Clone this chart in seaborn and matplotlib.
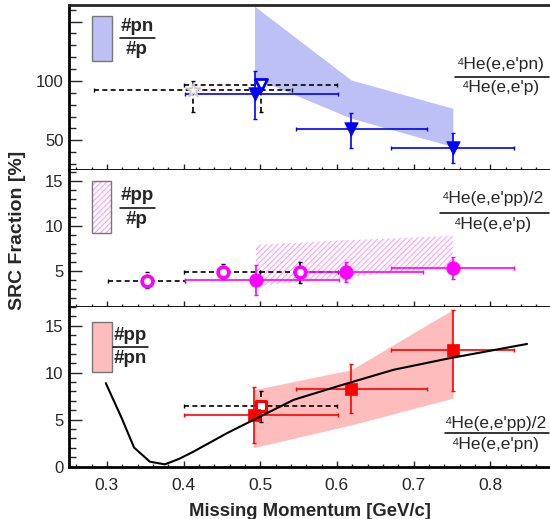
import numpy as np
import pandas as pd
import matplotlib
matplotlib.use("Agg")
import matplotlib.pyplot as plt
import seaborn as sns
from matplotlib.patches import Rectangle
from matplotlib.lines import Line2D
from matplotlib.ticker import MultipleLocator, FixedLocator, FixedFormatter

# ---------------- data ----------------
# top panel: #pn/#p  (4He(e,e'pn)/4He(e,e'p))
pn_x = [0.4926, 0.6187, 0.7513]
pn_y = [88.8, 59.3, 43.8]
pn_xlo = [0.402, 0.5465, 0.6709]
pn_xhi = [0.602, 0.7174, 0.8313]
pn_ylo = [67.7, 43.8, 30.7]
pn_yhi = [108.4, 73.3, 55.9]
pn_band_lo = [102.5, 68.6, 44.7]
pn_band_hi = [163.0, 100.8, 77.0]
pn_open_x = [0.5013]
pn_open_y = [96.6]
pn_open_xlo = [0.40]
pn_open_xhi = [0.60]
pn_open_ylo = [74.1]
pn_open_yhi = [99.0]
star_x = [0.412]
star_y = [92.2]
star_xlo = [0.283]
star_xhi = [0.541]
star_ylo = [74.1]
star_yhi = [100.3]

# middle panel: #pp/#p
ppp_x = [0.4944, 0.6118, 0.7513]
ppp_y = [4.0, 4.85, 5.3]
ppp_xlo = [0.402, 0.552, 0.6709]
ppp_xhi = [0.603, 0.712, 0.8313]
ppp_ylo = [2.33, 3.74, 4.08]
ppp_yhi = [5.67, 5.97, 6.52]
ppp_band_lo = [3.3, 4.3, 5.4]
ppp_band_hi = [7.9, 8.4, 8.9]
ppp_open_x = [0.3522, 0.4513, 0.5513]
ppp_open_y = [3.92, 4.92, 4.85]
ppp_open_xlo = [0.3013, 0.40, 0.50]
ppp_open_xhi = [0.402, 0.50, 0.602]
ppp_open_ylo = [3.08, 4.08, 3.63]
ppp_open_yhi = [4.86, 5.78, 6.03]

# bottom panel: #pp/#pn
pppn_x = [0.4913, 0.6187, 0.7513]
pppn_y = [5.5, 8.27, 12.35]
pppn_xlo = [0.401, 0.5465, 0.6709]
pppn_xhi = [0.602, 0.7174, 0.8313]
pppn_ylo = [2.56, 5.69, 8.06]
pppn_yhi = [8.52, 10.9, 16.69]
pppn_band_lo = [2.03, 4.44, 7.28]
pppn_band_hi = [8.17, 10.3, 16.7]
pppn_open_x = [0.5013]
pppn_open_y = [6.46]
pppn_open_xlo = [0.40]
pppn_open_xhi = [0.60]
pppn_open_ylo = [4.73]
pppn_open_yhi = [8.06]

curve_x = [0.2986, 0.3194, 0.3355, 0.3561, 0.3757, 0.3939, 0.413, 0.4566,
           0.5, 0.5435, 0.6, 0.674, 0.748, 0.8, 0.848]
curve_y = [8.88, 5.15, 2.03, 0.53, 0.25, 0.82, 1.6, 3.56,
           5.33, 7.1, 8.52, 10.3, 11.54, 12.32, 13.04]

x_ticks = [0.3, 0.4, 0.5, 0.6, 0.7, 0.8]
x_tick_labels = ["0.3", "0.4", "0.5", "0.6", "0.7", "0.8"]

# ---------------- style ----------------
sns.set_theme(style="ticks")
plt.rcParams["font.family"] = ["Liberation Sans", "DejaVu Sans"]
plt.rcParams["hatch.linewidth"] = 0.8

W, H = 550, 519
fig = plt.figure(figsize=(W / 100, H / 100), dpi=100)

def fx(px):
    return px / W

def fy(py):
    return 1 - py / H

L = 69.3
ax_top = fig.add_axes([fx(L), fy(170), 1 - fx(L), (170 - 5) / H])
ax_mid = fig.add_axes([fx(L), fy(306.7), 1 - fx(L), (306.7 - 170) / H])
ax_bot = fig.add_axes([fx(L), fy(466.7), 1 - fx(L), (466.7 - 306.7) / H])

BLUE = "#0000ff"
MAG = "#ff00ff"
RED = "#ff0000"
BLUE_BAND = "#bcc0f5"
RED_BAND = "#ffbcbc"
MAG_HATCH = "#ffa0f8"


def errbars(ax, x, y, xlo, xhi, ylo, yhi, color, dashed=False):
    x = np.array(x); y = np.array(y)
    xerr = [x - np.array(xlo), np.array(xhi) - x]
    yerr = [y - np.array(ylo), np.array(yhi) - y]
    eb = ax.errorbar(x, y, xerr=xerr, yerr=yerr, fmt="none", ecolor=color,
                     elinewidth=1.2, capsize=1.5, capthick=1.0, zorder=3)
    if dashed:
        for lc in eb[2]:
            lc.set_linestyle((0, (3, 2)))
    return eb


def style_axes(ax, ylim, ymaj, ymin, ylabels=None, top_spine=False, xlabels=False):
    ax.set_xlim(0.251, 0.878)
    ax.set_ylim(*ylim)
    for s in ["left", "bottom"]:
        ax.spines[s].set_linewidth(2.0)
        ax.spines[s].set_color("black")
    ax.spines["right"].set_visible(False)
    ax.spines["top"].set_visible(top_spine)
    if top_spine:
        ax.spines["top"].set_linewidth(2.0)
    ax.yaxis.set_major_locator(FixedLocator(ymaj))
    if ylabels is not None:
        ax.yaxis.set_major_formatter(FixedFormatter(ylabels))
    ax.yaxis.set_minor_locator(MultipleLocator(ymin))
    ax.xaxis.set_major_locator(FixedLocator(x_ticks))
    ax.xaxis.set_minor_locator(MultipleLocator(0.02))
    ax.tick_params(axis="y", which="major", direction="in", length=9, width=1,
                   labelsize=12, pad=4, left=True, right=False)
    ax.tick_params(axis="y", which="minor", direction="in", length=5, width=1,
                   left=True, right=False)
    ax.tick_params(axis="x", which="major", direction="in", length=4.5, width=1,
                   labelsize=12.5, pad=8, bottom=True, top=False)
    ax.tick_params(axis="x", which="minor", direction="in", length=2.5, width=1,
                   bottom=True, top=False)
    if xlabels:
        ax.set_xticklabels(x_tick_labels)
    else:
        ax.set_xticklabels([])
    ax.set_xlabel("")
    ax.set_ylabel("")
    ax.set_facecolor("white")


# ---------------- top panel ----------------
ax = ax_top
ax.fill_between(pn_x, pn_band_lo, pn_band_hi, color=BLUE_BAND, lw=0, zorder=1)
errbars(ax, star_x, star_y, star_xlo, star_xhi, star_ylo, star_yhi, "black", dashed=True)
errbars(ax, pn_open_x, pn_open_y, pn_open_xlo, pn_open_xhi, pn_open_ylo, pn_open_yhi, "black", dashed=True)
errbars(ax, pn_x, pn_y, pn_xlo, pn_xhi, pn_ylo, pn_yhi, BLUE)
sns.scatterplot(x=star_x, y=star_y, ax=ax, marker="*", s=110, color="white",
                edgecolor="#c8c8c8", linewidth=1.2, zorder=4)
sns.scatterplot(x=pn_open_x, y=pn_open_y, ax=ax, marker="v", s=75, color="white",
                edgecolor=BLUE, linewidth=2, zorder=4)
sns.scatterplot(x=pn_x, y=pn_y, ax=ax, marker="v", s=95, color=BLUE,
                edgecolor=BLUE, linewidth=0.5, zorder=5)
style_axes(ax, (25, 164), [50, 100, 150], 10, ["50", "100", ""], top_spine=True)

# ---------------- middle panel ----------------
ax = ax_mid
ax.fill_between(ppp_x, ppp_band_lo, ppp_band_hi, facecolor="none",
                edgecolor=MAG_HATCH, hatch="//////", lw=0, zorder=1)
errbars(ax, ppp_open_x, ppp_open_y, ppp_open_xlo, ppp_open_xhi, ppp_open_ylo, ppp_open_yhi, "black", dashed=True)
errbars(ax, ppp_x, ppp_y, ppp_xlo, ppp_xhi, ppp_ylo, ppp_yhi, MAG)
sns.scatterplot(x=ppp_open_x, y=ppp_open_y, ax=ax, marker="o", s=60, color="white",
                edgecolor=MAG, linewidth=2.6, zorder=4)
sns.scatterplot(x=ppp_x, y=ppp_y, ax=ax, marker="o", s=95, color=MAG,
                edgecolor=MAG, linewidth=0.5, zorder=5)
style_axes(ax, (1.03, 16.2), [5, 10, 15], 1)

# ---------------- bottom panel ----------------
ax = ax_bot
ax.fill_between(pppn_x, pppn_band_lo, pppn_band_hi, color=RED_BAND, lw=0, zorder=1)
errbars(ax, pppn_open_x, pppn_open_y, pppn_open_xlo, pppn_open_xhi, pppn_open_ylo, pppn_open_yhi, "black", dashed=True)
errbars(ax, pppn_x, pppn_y, pppn_xlo, pppn_xhi, pppn_ylo, pppn_yhi, RED)
curve_df = pd.DataFrame({"p": curve_x, "r": curve_y})
sns.lineplot(data=curve_df, x="p", y="r", ax=ax, color="black", lw=1.5, zorder=6)
sns.scatterplot(x=pppn_open_x, y=pppn_open_y, ax=ax, marker="s", s=55, color="white",
                edgecolor=RED, linewidth=2.2, zorder=4)
sns.scatterplot(x=pppn_x, y=pppn_y, ax=ax, marker="s", s=85, color=RED,
                edgecolor=RED, linewidth=0.5, zorder=5)
style_axes(ax, (0, 17), [0, 5, 10, 15], 1, xlabels=True)

# ---------------- legend boxes & fraction labels ----------------
def legend_box(px0, py0, px1, py1, edge="#777777", lw=1.0, **kw):
    r = Rectangle((fx(px0), fy(py1)), (px1 - px0) / W, (py1 - py0) / H,
                  transform=fig.transFigure, edgecolor=edge, lw=lw, **kw)
    fig.add_artist(r)


def frac(cx, num, den, py_num, py_line, py_den, lx0, lx1, size, bold=False):
    kw = dict(ha="center", va="center", fontsize=size,
              fontweight="bold" if bold else "normal")
    fig.text(fx(cx), fy(py_num), num, **kw)
    fig.text(fx(cx), fy(py_den), den, **kw)
    fig.add_artist(Line2D([fx(lx0), fx(lx1)], [fy(py_line)] * 2,
                          transform=fig.transFigure, color="black", lw=1.1))


legend_box(92.3, 16, 111.7, 61, facecolor=BLUE_BAND)
frac(137, "#pn", "#p", 26.7, 37.7, 50, 120, 155, 13.5, bold=True)

legend_box(92.3, 181, 111.0, 233.3, edge=MAG_HATCH, lw=0, facecolor="white", hatch="//////")
legend_box(92.3, 181, 111.0, 233.3, facecolor="none")
frac(137, "#pp", "#p", 195, 207.7, 220, 120, 155, 13.5, bold=True)

legend_box(92.3, 321.7, 111.7, 371.7, facecolor=RED_BAND)
frac(130, "#pp", "#pn", 335, 346.7, 358.3, 113, 148, 13.5, bold=True)

frac(501, "⁴He(e,e'pn)", "⁴He(e,e'p)", 65, 76.7, 87.3, 455, 549, 12.5)
frac(493, "⁴He(e,e'pp)/2", "⁴He(e,e'p)", 198.3, 212.7, 225, 440, 549, 12.5)
frac(496, "⁴He(e,e'pp)/2", "⁴He(e,e'pn)", 423.3, 433.3, 445, 445, 549, 12.5)

# axis titles
fig.text(fx(310), fy(511), "Missing Momentum [GeV/c]", ha="center", va="center",
         fontsize=13.3, fontweight="bold")
fig.text(fx(17.5), fy(230), "SRC Fraction [%]", ha="center", va="center",
         rotation=90, fontsize=14, fontweight="bold")

fig.savefig("out.png", dpi=100)
